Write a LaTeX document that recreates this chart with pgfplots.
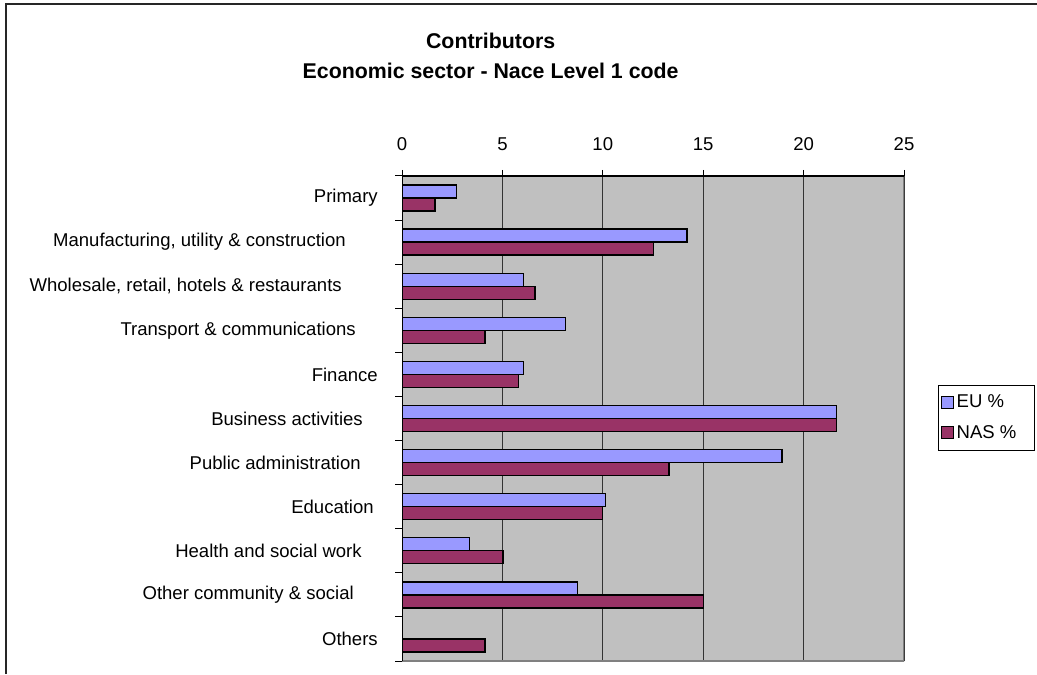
\documentclass[border=0pt]{standalone}
\usepackage{fontspec}
\setmainfont{Liberation Sans}
\usepackage{pgfplots}
\pgfplotsset{compat=1.18}
\definecolor{eu}{HTML}{9999FF}
\definecolor{nas}{HTML}{993366}
\definecolor{plotgray}{HTML}{C0C0C0}
\begin{document}
\begin{tikzpicture}
\useasboundingbox (0pt,0pt) rectangle (777.75pt,505.5pt);
\fill[white] (0pt,0pt) rectangle (777.75pt,505.5pt);
\draw[line width=1.5pt, black!85] (4.5pt,0pt) -- (4.5pt,502.5pt) -- (777.75pt,502.5pt);
\node[font=\fontsize{16}{19}\selectfont\bfseries, anchor=base] at (368pt,469pt) {Contributors};
\node[font=\fontsize{16}{19}\selectfont\bfseries, anchor=base] at (368pt,446.5pt) {Economic sector - Nace Level 1 code};
\begin{axis}[
  at={(301.5pt,9.75pt)}, anchor=south west,
  scale only axis, width=376.5pt, height=363.75pt,
  xbar, bar width=9.75pt,
  xmin=0, xmax=25, ymin=-0.5, ymax=10.5,
  axis background/.style={fill=plotgray},
  axis line style={draw=none},
  xtick={0,5,...,25},
  xtick pos=right, xticklabel pos=right,
  xmajorgrids, major grid style={black!80, line width=0.75pt},
  tick align=outside,
  major tick length=4.5pt,
  minor tick length=5.25pt,
  major x tick style={black, line width=0.75pt},
  ytick={0,...,10},
  ytick pos=left,
  major y tick style={draw=none},
  minor ytick={-0.5,0.5,...,10.5},
  minor y tick style={black, line width=0.75pt},
  yticklabels={Others,
    Other community \& social\hspace*{18pt},
    Health and social work\hspace*{12pt},
    Education\hspace*{3pt},
    Public administration\hspace*{12.75pt},
    Business activities\hspace*{11.25pt},
    Finance,
    Transport \& communications\hspace*{16.5pt},
    {Wholesale, retail, hotels \& restaurants\hspace*{27pt}},
    {Manufacturing, utility \& construction\hspace*{24pt}},
    Primary},
  ticklabel style={font=\fontsize{13.9}{16}\selectfont},
  yticklabel style={inner sep=0pt, xshift=-13.5pt},
  xticklabel style={yshift=11pt},
  /pgf/number format/assume math mode=true,
  legend style={at={(1.068,0.569)}, anchor=north west, draw=black, fill=white,
    font=\fontsize{13.9}{16}\selectfont, inner xsep=2pt, inner ysep=5pt,
    row sep=8pt, legend cell align=left},
]
\addplot[fill=eu, draw=black, line width=1pt, bar shift=4.875pt,
  legend image code/.code={\draw[fill=eu, draw=black, line width=0.75pt] (0pt,-4.5pt) rectangle (9pt,4.5pt);}]
  coordinates {(2.7,10) (14.2,9) (6.05,8) (8.13,7) (6.05,6) (21.63,5) (18.92,4) (10.12,3) (3.35,2) (8.75,1)};
\addlegendentry{EU \%\hspace*{9pt}}
\addplot[fill=nas, draw=black, line width=1pt, bar shift=-4.875pt,
  legend image code/.code={\draw[fill=nas, draw=black, line width=0.75pt] (0pt,-4.5pt) rectangle (9pt,4.5pt);}]
  coordinates {(1.65,10) (12.53,9) (6.62,8) (4.14,7) (5.81,6) (21.63,5) (13.30,4) (9.97,3) (5.03,2) (15.0,1) (4.14,0)};
\addlegendentry{NAS \%\hspace*{9pt}}
\draw[black!50, line width=1pt] (rel axis cs:0,0) -- (rel axis cs:1,0) -- (rel axis cs:1,1);
\draw[black, line width=1pt] (rel axis cs:0,0) -- (rel axis cs:0,1) -- (rel axis cs:1,1);
\end{axis}
\end{tikzpicture}
\end{document}
